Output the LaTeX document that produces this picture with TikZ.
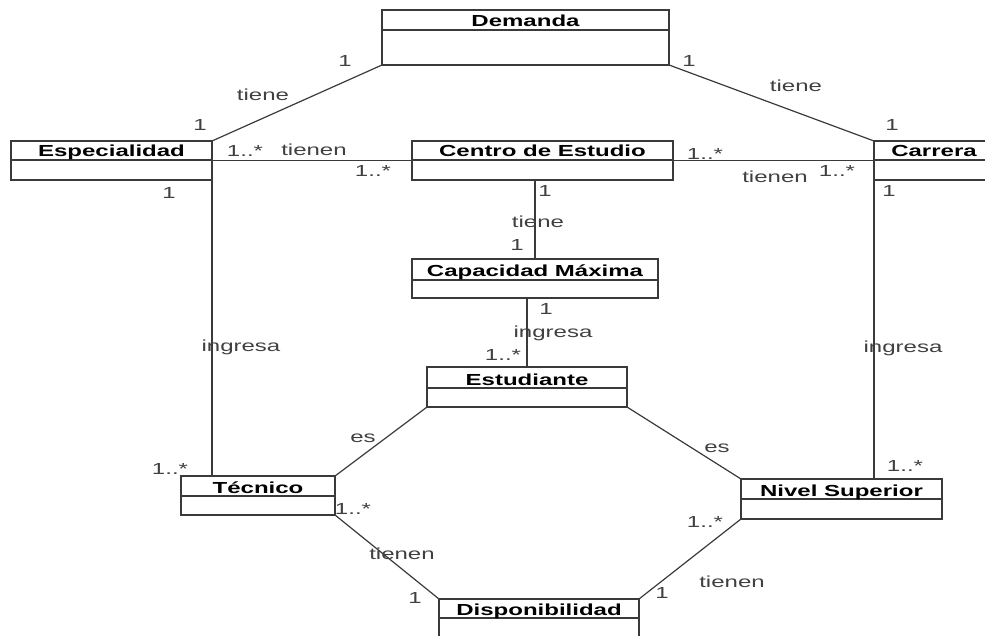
\documentclass[tikz,border=0pt]{standalone}
\usepackage{fontspec}
\usepackage{graphicx}
\setmainfont{Liberation Sans}
\definecolor{linegray}{HTML}{3A3A3A}
\definecolor{labelgray}{HTML}{404040}
% wide, stretched lettering of the class diagram
\newcommand{\wide}[1]{\scalebox{1.5}[1]{#1}}
\tikzset{
  classbox/.style={draw=linegray, line width=1.2pt, rectangle, inner sep=0pt, outer sep=0pt, fill=white},
  boxline/.style={draw=linegray, line width=1.2pt},
  classtitle/.style={inner sep=0pt, anchor=base, font=\fontsize{16}{16}\selectfont\bfseries, text=black},
  assoc/.style={draw=linegray, line width=1.2pt},
  lbl/.style={inner sep=0pt, font=\fontsize{16}{16}\selectfont, text=labelgray},
}
% \umlclass{name}{left}{top}{right}{divider}{bottom}{title}
\newcommand{\umlclass}[7]{%
  \node[classbox, minimum width={#4-#2}, minimum height={#6-#3}, anchor=north west] (#1) at (#2,#3) {};
  \draw[boxline] (#2,#5) -- (#4,#5);
  \node[classtitle] (#1-t) at ({(#2+#4)/2},{#5-3}) {\wide{#7}};
}
\begin{document}
\begin{tikzpicture}[x=1pt, y=-1pt]
\useasboundingbox (0,0) rectangle (985,636);
\clip (0,0) rectangle (985,636);

% classes
\umlclass{dem}{382}{10}{669}{30}{65}{Demanda}
\umlclass{esp}{11}{141}{212}{160}{180}{Especialidad}
\umlclass{cen}{412}{141}{673}{160}{180}{Centro de Estudio}
\umlclass{car}{874}{141}{994}{160}{180}{Carrera}
\umlclass{cap}{412}{259}{658}{280}{298}{Capacidad Máxima}
\umlclass{est}{427}{367}{627}{388}{407}{Estudiante}
\umlclass{tec}{181}{476}{335}{496}{515}{Técnico}
\umlclass{niv}{741}{479}{942}{499}{519}{Nivel Superior}
\umlclass{dis}{439}{599}{639}{618}{640}{Disponibilidad}

% associations
\draw[assoc] (dem.south west) -- (esp.north east);
\draw[assoc] (dem.south east) -- (car.north west);
\draw[assoc] (esp.east) -- (cen.west);
\draw[assoc] (cen.east) -- (car.west);
\draw[assoc] (esp.south east) -- (esp.south east |- tec.north);
\draw[assoc] (car.south west) -- (car.south west |- niv.north);
\draw[assoc] (cap.north |- cen.south) -- (cap.north);
\draw[assoc] (est.north |- cap.south) -- (est.north);
\draw[assoc] (est.south west) -- (tec.north east);
\draw[assoc] (est.south east) -- (niv.north west);
\draw[assoc] (tec.south east) -- (dis.north west);
\draw[assoc] (niv.south west) -- (dis.north east);

% role names and multiplicities
\node[lbl] (l1)  at (345,61)  {\wide{1}};
\node[lbl] (l2)  at (263,95)  {\wide{tiene}};
\node[lbl] (l3)  at (200,125) {\wide{1}};
\node[lbl] (l4)  at (245,151) {\wide{1..*}};
\node[lbl] (l5)  at (314,150) {\wide{tienen}};
\node[lbl] (l6)  at (373,171) {\wide{1..*}};
\node[lbl] (l7)  at (169,193) {\wide{1}};
\node[lbl] (l8)  at (689,61)  {\wide{1}};
\node[lbl] (l9)  at (796,86)  {\wide{tiene}};
\node[lbl] (l10) at (892,125) {\wide{1}};
\node[lbl] (l11) at (705,154) {\wide{1..*}};
\node[lbl] (l12) at (775,177) {\wide{tienen}};
\node[lbl] (l13) at (837,171) {\wide{1..*}};
\node[lbl] (l14) at (545,191) {\wide{1}};
\node[lbl] (l15) at (889,191) {\wide{1}};
\node[lbl] (l16) at (538,222) {\wide{tiene}};
\node[lbl] (l17) at (517,245) {\wide{1}};
\node[lbl] (l18) at (546,309) {\wide{1}};
\node[lbl] (l19) at (553,333) {\wide{ingresa}};
\node[lbl] (l20) at (503,355) {\wide{1..*}};
\node[lbl] (l21) at (241,347) {\wide{ingresa}};
\node[lbl] (l22) at (903,348) {\wide{ingresa}};
\node[lbl] (l23) at (363,438) {\wide{es}};
\node[lbl] (l24) at (717,448) {\wide{es}};
\node[lbl] (l25) at (170,469) {\wide{1..*}};
\node[lbl] (l26) at (905,466) {\wide{1..*}};
\node[lbl] (l27) at (353,509) {\wide{1..*}};
\node[lbl] (l28) at (402,554) {\wide{tienen}};
\node[lbl] (l29) at (415,598) {\wide{1}};
\node[lbl] (l30) at (705,522) {\wide{1..*}};
\node[lbl] (l31) at (732,582) {\wide{tienen}};
\node[lbl] (l32) at (662,593) {\wide{1}};
\end{tikzpicture}
\end{document}
